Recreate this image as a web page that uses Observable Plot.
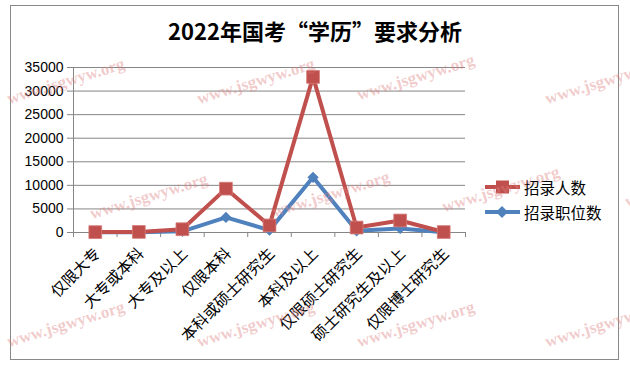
<!DOCTYPE html>
<html>
<head>
<meta charset="utf-8">
<script src="https://cdn.jsdelivr.net/npm/d3@7"></script>
<script src="https://cdn.jsdelivr.net/npm/@observablehq/plot@0.6"></script>
<style>
  html, body { margin: 0; padding: 0; background: #fff; }
  #wrap { position: relative; width: 630px; height: 370px; overflow: hidden; background: #fff; }
  #frame { position: absolute; left: 10px; top: 5px; width: 609px; height: 355px; border: 1.5px solid #888; box-sizing: border-box; }
  #title { position: absolute; left: 0; top: 15px; width: 630px; text-align: center; font-family: "Noto Sans CJK SC", sans-serif; font-weight: bold; font-size: 22px; line-height: 30px; color: #000; }
  #chart { position: absolute; left: 0; top: 0; }
  .leg { position: absolute; left: 485px; height: 20px; display: flex; align-items: center; font-family: "Noto Sans CJK SC", sans-serif; font-size: 15.5px; color: #000; }
  .leg svg { margin-right: 4px; }
  .wm { position: absolute; font-family: "Liberation Serif", serif; font-weight: bold; font-size: 17px; line-height: 17px; color: rgba(222, 130, 130, 0.42); transform-origin: 0 100%; transform: rotate(-17deg); white-space: nowrap; pointer-events: none; }
</style>
</head>
<body>
<div id="wrap">
  <div id="frame"></div>
  <div id="title">2022年国考“学历”要求分析</div>
  <div id="chart"></div>
</div>
<script>
const categories = ["仅限大专", "大专或本科", "大专及以上", "仅限本科", "本科或硕士研究生", "本科及以上", "仅限硕士研究生", "硕士研究生及以上", "仅限博士研究生"];
const recruits = [80, 120, 700, 9300, 1500, 33000, 1050, 2550, 100];   // 招录人数
const positions = [40, 60, 250, 3200, 500, 11700, 350, 850, 50];      // 招录职位数
const yTicks = [0, 5000, 10000, 15000, 20000, 25000, 30000, 35000];
const seriesNames = ["招录人数", "招录职位数"];
const watermark = "www.jsgwyw.org";

const red = "#C0504D", blue = "#4F81BD", grid = "#868686";
const idx = categories.map((_, i) => i);
const bounds = d3.range(-0.5, categories.length, 1);

const chart = Plot.plot({
  width: 630,
  height: 370,
  marginLeft: 73,
  marginRight: 165,
  marginTop: 67,
  marginBottom: 138,
  style: { background: "transparent", overflow: "visible" },
  x: { type: "linear", domain: [-0.5, categories.length - 0.5] },
  y: { domain: [0, 35000] },
  marks: [
    Plot.gridY(yTicks, { stroke: grid, strokeOpacity: 1, strokeWidth: 1 }),
    Plot.axisY(yTicks, { tickSize: 6, tickPadding: 4, stroke: grid, fontSize: 14, fontFamily: "Liberation Sans, Arial, sans-serif", fill: "#000", tickFormat: d3.format("d"), label: null }),
    Plot.ruleX([-0.5], { stroke: grid, strokeWidth: 1 }),
    Plot.ruleY([0], { stroke: grid, strokeWidth: 1 }),
    Plot.axisX(bounds, { tickSize: 5, stroke: grid, tickFormat: () => "", label: null }),
    Plot.text(categories, { x: (d, i) => i, text: d => d, frameAnchor: "bottom", rotate: -45, textAnchor: "end", dx: 6, dy: 22, fontSize: 15.5, fontFamily: "Noto Sans CJK SC", fill: "#000" }),
    Plot.line(idx, { x: i => i, y: i => positions[i], stroke: blue, strokeWidth: 4, strokeLinejoin: "round" }),
    Plot.dot(idx, { x: i => i, y: i => positions[i], symbol: "diamond2", r: 4.8, fill: blue, stroke: "#4a7ab3", strokeWidth: 0.5 }),
    Plot.line(idx, { x: i => i, y: i => recruits[i], stroke: red, strokeWidth: 4, strokeLinejoin: "round" }),
    Plot.dot(idx, { x: i => i, y: i => recruits[i], symbol: "square", r: 7.2, fill: red, stroke: "#d47a77", strokeWidth: 0.8 })
  ]
});
document.getElementById("chart").appendChild(chart);

const wrap = document.getElementById("wrap");
// legend
const legColors = [red, blue];
const legTops = [177, 202];
seriesNames.forEach((name, k) => {
  const row = document.createElement("div");
  row.className = "leg";
  row.style.top = legTops[k] + "px";
  const marker = k === 0
    ? `<rect x="11" y="3.5" width="13" height="13" fill="${red}"/>`
    : `<path d="M17 4 L23 10 L17 16 L11 10 Z" fill="${blue}"/>`;
  row.innerHTML = `<svg width="35" height="20"><line x1="0" y1="10" x2="35" y2="10" stroke="${legColors[k]}" stroke-width="4"/>${marker}</svg><span>${name}</span>`;
  wrap.appendChild(row);
});

// watermarks
const wmPos = [[10,107],[200,107],[360,103],[548,107],[93,222],[275,220],[445,215],[628,210],[10,350],[200,350],[360,350],[548,350]];
wmPos.forEach(([x, y]) => {
  const w = document.createElement("div");
  w.className = "wm";
  w.textContent = watermark;
  w.style.left = x + "px";
  w.style.top = (y - 17) + "px";
  wrap.appendChild(w);
});
</script>
</body>
</html>
